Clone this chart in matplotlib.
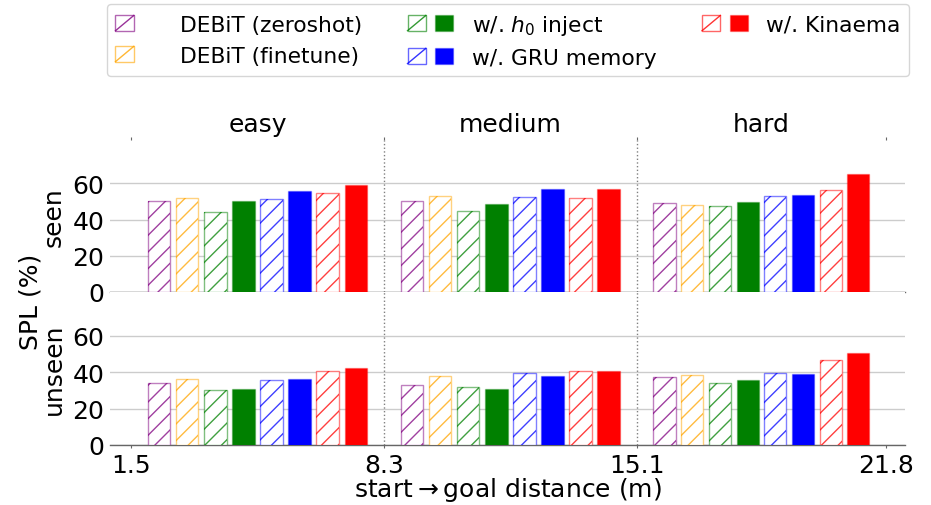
import matplotlib
matplotlib.use("Agg")
import matplotlib.pyplot as plt
from matplotlib.colors import to_rgba
from matplotlib.patches import Patch, Rectangle
from matplotlib.lines import Line2D
from matplotlib.legend_handler import HandlerTuple, HandlerBase

# ---------------- data ----------------
difficulties = ["easy", "medium", "hard"]
bin_edges = [1.5, 8.3, 15.1, 21.8]
tick_labels = ["1.5", "8.3", "15.1", "21.8"]

legend_labels = ["DEBiT (zeroshot)", "DEBiT (finetune)", "w/. $h_0$ inject",
                 "w/. GRU memory", "w/. Kinaema"]

# bars per group: zeroshot, finetune, h0(hatch), h0(solid), GRU(hatch), GRU(solid), Kinaema(hatch), Kinaema(solid)
bar_colors = ["purple", "orange", "green", "green", "blue", "blue", "red", "red"]
bar_hatched = [True, True, True, False, True, False, True, False]

seen_easy = [50.3, 52.1, 44.4, 50.3, 51.2, 55.6, 54.5, 59.1]
seen_medium = [50.3, 53.2, 45.0, 48.6, 52.3, 56.9, 52.1, 57.1]
seen_hard = [49.4, 48.3, 47.7, 49.7, 52.8, 53.8, 56.1, 65.3]

unseen_easy = [34.0, 36.2, 30.1, 30.6, 35.6, 36.5, 40.5, 42.4]
unseen_medium = [33.2, 37.8, 31.6, 30.6, 39.3, 37.8, 40.5, 40.9]
unseen_hard = [37.2, 38.7, 33.8, 35.8, 39.4, 39.1, 46.4, 50.5]

seen = [seen_easy, seen_medium, seen_hard]
unseen = [unseen_easy, unseen_medium, unseen_hard]

# ---------------- figure ----------------
W, H = 931, 506
fig = plt.figure(figsize=(W / 100, H / 100), dpi=100)
left, right = 110, 905
ax1 = fig.add_axes([left / W, 1 - 293 / H, (right - left) / W, 152 / H])
ax2 = fig.add_axes([left / W, 1 - 446 / H, (right - left) / W, 153 / H], sharex=ax1)

FS = 18
spine_col = "#666666"


def draw_panel(ax, data):
    for b in range(3):
        lo, hi = bin_edges[b], bin_edges[b + 1]
        center = (lo + hi) / 2
        pitch = (hi - lo) / 9
        width = 0.8 * pitch
        for i, v in enumerate(data[b]):
            x = center + (i - 3.5) * pitch
            c = bar_colors[i]
            if bar_hatched[i]:
                ax.bar(x, v, width=width, facecolor="white",
                       edgecolor=to_rgba(c, 0.5), linewidth=1.0, zorder=3)
                ax.bar(x, v, width=width, facecolor="none",
                       edgecolor=to_rgba(c, 0.75), linewidth=0, hatch="//", zorder=4)
            else:
                ax.bar(x, v, width=width, facecolor=c,
                       edgecolor=to_rgba(c, 0.3), linewidth=1.0, zorder=3)
    for e in bin_edges[1:-1]:
        ax.axvline(e, color="gray", linestyle=":", linewidth=1.0, zorder=2)
    ax.set_ylim(0, 84)
    ax.set_yticks([0, 20, 40, 60])
    ax.yaxis.grid(True, color="#cccccc", linewidth=1.0, zorder=0)
    ax.set_axisbelow(True)
    for s in ["top", "left", "right"]:
        ax.spines[s].set_visible(False)
    ax.spines["bottom"].set_color(spine_col)
    ax.spines["bottom"].set_linewidth(1.0)
    ax.tick_params(axis="y", length=0, labelsize=FS, pad=4)
    ax.tick_params(axis="x", direction="out", length=2.5, color=spine_col, labelsize=FS)


draw_panel(ax1, seen)
draw_panel(ax2, unseen)

ax1.set_xlim(0.935, 22.31)
ax2.set_xticks(bin_edges)
ax2.set_xticklabels(tick_labels)
ax1.tick_params(axis="x", top=True, bottom=True, labelbottom=False)

ax1.set_ylabel("seen", fontsize=FS, labelpad=5)
ax2.set_ylabel("unseen", fontsize=FS, labelpad=5)
fig.text(31 / W, 1 - 302 / H, "SPL (%)", rotation=90, fontsize=FS,
         ha="center", va="center")
ax2.set_xlabel(r"start$\rightarrow$goal distance (m)", fontsize=FS, labelpad=-1.5)

for b, name in enumerate(difficulties):
    center = (bin_edges[b] + bin_edges[b + 1]) / 2
    ax1.annotate(name, xy=(center, 1.0), xycoords=("data", "axes fraction"),
                 xytext=(0, 3), textcoords="offset points",
                 ha="center", va="bottom", fontsize=FS)


# ---------------- legend ----------------
class HatchedPatch(Patch):
    pass


class HandlerDiag(HandlerBase):
    def create_artists(self, legend, orig_handle, xdescent, ydescent,
                       width, height, fontsize, trans):
        ec = orig_handle.get_edgecolor()
        x0, y0 = -xdescent, -ydescent
        rect = Rectangle((x0, y0), width, height, facecolor="white",
                         edgecolor=(ec[0], ec[1], ec[2], 0.6), linewidth=1.0,
                         transform=trans)
        line = Line2D([x0, x0 + width], [y0, y0 + height],
                      color=(ec[0], ec[1], ec[2], 0.8), linewidth=1.0,
                      transform=trans)
        return [rect, line]


def hatched_patch(c):
    return HatchedPatch(facecolor="white", edgecolor=c)


def solid_patch(c):
    return Patch(facecolor=c, edgecolor=to_rgba(c, 0.3), linewidth=1.0)


blank = Patch(facecolor="none", edgecolor="none")
handles = [
    (hatched_patch("purple"), blank),
    (hatched_patch("orange"), blank),
    (hatched_patch("green"), solid_patch("green")),
    (hatched_patch("blue"), solid_patch("blue")),
    (hatched_patch("red"), solid_patch("red")),
]
fig.legend(handles, legend_labels, ncol=3, loc="upper center",
           bbox_to_anchor=(508 / W, 1 - 5 / H), borderaxespad=0, fontsize=15.7,
           handler_map={tuple: HandlerTuple(ndivide=None, pad=0.42),
                        HatchedPatch: HandlerDiag()},
           handlelength=2.1, handleheight=0.7, handletextpad=0.84,
           columnspacing=2.1, frameon=True)

fig.savefig("out.png", dpi=100)
